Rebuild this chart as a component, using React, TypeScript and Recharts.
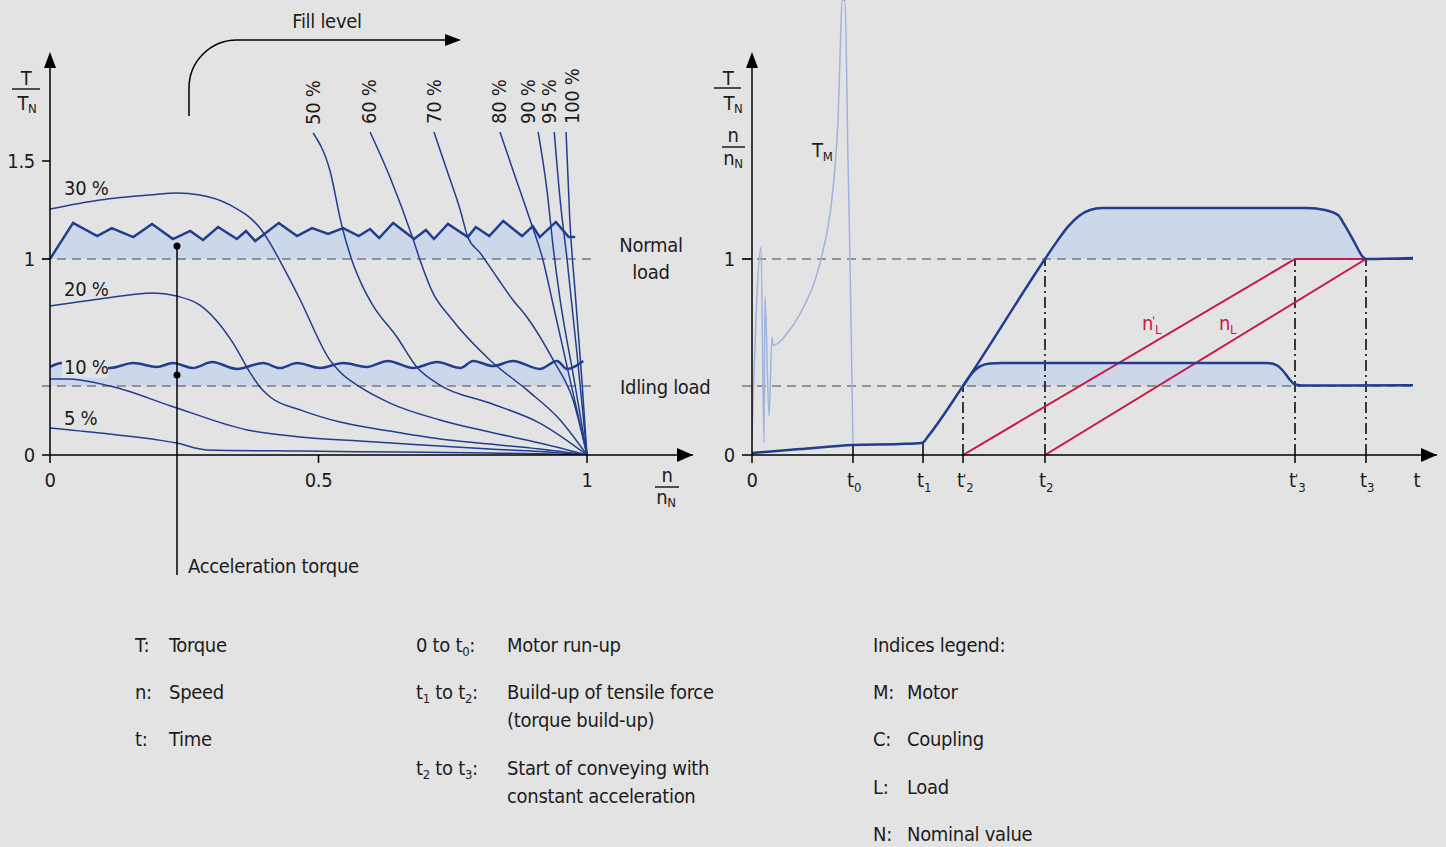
import { ComposedChart, Line, Area, XAxis, YAxis, ReferenceLine, ReferenceDot } from "recharts"

type Pt = [number, number]

// ---- left chart: T/TN over n/nN, one curve per fill level ----
const fill5: Pt[] = [[0, 0.138], [0.093, 0.112], [0.236, 0.061], [0.292, 0.026], [0.466, 0.02], [0.652, 0.015], [0.819, 0.01], [0.912, 0.006], [1, 0]]
const fill10: Pt[] = [[0, 0.388], [0.032, 0.388], [0.112, 0.352], [0.236, 0.24], [0.367, 0.128], [0.466, 0.092], [0.577, 0.071], [0.726, 0.046], [0.819, 0.031], [0.912, 0.018], [1, 0]]
const fill20: Pt[] = [[0, 0.76], [0.093, 0.796], [0.192, 0.827], [0.236, 0.811], [0.279, 0.765], [0.341, 0.571], [0.372, 0.423], [0.391, 0.347], [0.41, 0.296], [0.466, 0.23], [0.54, 0.168], [0.633, 0.122], [0.726, 0.082], [0.819, 0.056], [0.912, 0.03], [1, 0]]
const fill30: Pt[] = [[0, 1.255], [0.093, 1.301], [0.186, 1.327], [0.236, 1.337], [0.279, 1.327], [0.335, 1.276], [0.391, 1.158], [0.447, 0.893], [0.466, 0.791], [0.521, 0.485], [0.54, 0.423], [0.577, 0.347], [0.633, 0.265], [0.726, 0.179], [0.819, 0.117], [0.912, 0.061], [1, 0]]
const fill50: Pt[] = [[0.49, 1.643], [0.521, 1.454], [0.544, 1.163], [0.562, 0.995], [0.581, 0.867], [0.601, 0.765], [0.646, 0.602], [0.683, 0.449], [0.726, 0.357], [0.819, 0.265], [0.912, 0.163], [1, 0]]
const fill60: Pt[] = [[0.596, 1.648], [0.633, 1.418], [0.676, 1.102], [0.689, 0.995], [0.713, 0.827], [0.745, 0.704], [0.819, 0.485], [0.888, 0.332], [0.95, 0.179], [1, 0]]
const fill70: Pt[] = [[0.715, 1.648], [0.739, 1.454], [0.764, 1.25], [0.778, 1.112], [0.801, 1.031], [0.832, 0.908], [0.862, 0.791], [0.888, 0.704], [0.937, 0.485], [0.974, 0.281], [1, 0]]
const fill80: Pt[] = [[0.838, 1.648], [0.862, 1.454], [0.894, 1.199], [0.918, 0.995], [0.935, 0.791], [0.963, 0.45], [1, 0]]
const fill90: Pt[] = [[0.909, 1.648], [0.926, 1.339], [0.937, 1.061], [0.95, 0.791], [0.975, 0.4], [1, 0]]
const fill95: Pt[] = [[0.939, 1.648], [0.95, 1.301], [0.963, 0.995], [0.982, 0.5], [1, 0]]
const fill100: Pt[] = [[0.961, 1.648], [0.968, 1.199], [0.978, 0.827], [0.99, 0.4], [1, 0]]
const fillCurves = [fill5, fill10, fill20, fill30, fill50, fill60, fill70, fill80, fill90, fill95, fill100]

const normalLoad = 1
const idlingLoad = 0.352
const normalLoadWave: Pt[] = [[0, 1.0], [0.043, 1.184], [0.088, 1.117], [0.115, 1.158], [0.155, 1.112], [0.19, 1.179], [0.229, 1.102], [0.261, 1.143], [0.285, 1.097], [0.313, 1.163], [0.348, 1.102], [0.365, 1.143], [0.382, 1.092], [0.426, 1.184], [0.46, 1.117], [0.488, 1.158], [0.518, 1.128], [0.546, 1.158], [0.575, 1.117], [0.596, 1.153], [0.613, 1.107], [0.639, 1.184], [0.678, 1.102], [0.7, 1.148], [0.715, 1.102], [0.741, 1.179], [0.778, 1.112], [0.793, 1.163], [0.818, 1.117], [0.844, 1.194], [0.879, 1.117], [0.899, 1.168], [0.912, 1.112], [0.942, 1.189], [0.966, 1.112], [0.978, 1.112]]
const idlingLoadWave: Pt[] = [[0, 0.449], [0.022, 0.469], [0.065, 0.444], [0.112, 0.444], [0.155, 0.469], [0.199, 0.449], [0.229, 0.469], [0.266, 0.444], [0.302, 0.474], [0.348, 0.439], [0.397, 0.469], [0.428, 0.444], [0.46, 0.469], [0.503, 0.444], [0.546, 0.469], [0.59, 0.449], [0.629, 0.48], [0.676, 0.444], [0.721, 0.474], [0.764, 0.444], [0.788, 0.48], [0.825, 0.454], [0.862, 0.48], [0.912, 0.439], [0.944, 0.48], [0.963, 0.439], [0.993, 0.48]]
const accelSpeed = 0.2365
const accelTop = 1.066
const accelBottom = 0.408
const speedTicks = [0, 0.5, 1]
const torqueTicks = [0, 1, 1.5]
const fillLabelsTop: [string, number, number][] = [["50 %", 313, 125], ["60 %", 369, 124], ["70 %", 434, 124], ["80 %", 499, 124], ["90 %", 528, 124], ["95 %", 549, 124], ["100 %", 572, 124]]

// ---- right chart: run-up over time ----
const tTicks = [0, 101, 171, 211, 293, 543, 614]
const tTickLabels = ["0", "t0", "t1", "t'2", "t2", "t'3", "t3"]
const tEnd = 661
const motorTorque: Pt[] = [[0, 0.1], [9, 1.06], [12, 0.06], [13, 0.81], [17, 0.2], [20, 0.6], [21, 0.56], [38, 0.64], [53, 0.77], [63, 0.89], [70, 1.02], [78, 1.23], [83, 1.47], [86, 1.71], [88, 2.02], [90, 2.32], [93, 2.32], [96, 1.5], [98, 0.995], [101, 0.05]]
const couplingTorque: Pt[] = [[0, 0.01], [48, 0.03], [101, 0.051], [148, 0.056], [166, 0.06], [171, 0.064], [176, 0.095], [211, 0.352], [293, 1.0], [305, 1.09], [316, 1.165], [327, 1.22], [338, 1.25], [350, 1.26], [555, 1.26], [573, 1.25], [586, 1.224], [593, 1.17], [603, 1.08], [611, 1.01], [614, 1.0], [661, 1.005]]
const loadTorque: Pt[] = [[211, 0.352], [215, 0.383], [221, 0.423], [228, 0.452], [238, 0.467], [250, 0.469], [515, 0.469], [524, 0.46], [531, 0.43], [537, 0.39], [543, 0.36], [551, 0.354], [661, 0.356]]
const loadSpeedPrime: Pt[] = [[211, 0], [543, 1], [661, 1]]
const loadSpeed: Pt[] = [[293, 0], [614, 1], [661, 1]]

const FONT = '"Liberation Sans Narrow", "Arial Narrow", "DejaVu Sans Condensed", "Roboto Condensed", sans-serif'
const BG = "#e3e3e3"
const INK = "#1c1c1c"
const NAVY = "#213d8e"
const SHADE = "#cdd7ea"
const SKY = "#9fb3dd"
const RED = "#c8174b"
const DASH = "#7a7a7a"

const Y_MAX = 455 / 196
const X_MAX_L = 643 / 537
const T_MAX = 685

const rows = (pts: Pt[]) => pts.map(([x, y]) => ({ x, y }))
const band = (pts: Pt[], base: number) => pts.map(([x, y]) => ({ x, r: [base, y] }))

const upArrow = (p: any) => (
  <polygon points={`${p.cx},${p.cy} ${p.cx - 6},${p.cy + 16} ${p.cx + 6},${p.cy + 16}`} fill="#000" />
)
const rightArrow = (p: any) => (
  <polygon points={`${p.cx},${p.cy} ${p.cx - 16},${p.cy - 7} ${p.cx - 16},${p.cy + 7}`} fill="#000" />
)

const tickFont = { fontSize: 20, fill: INK, fontFamily: FONT, letterSpacing: -0.3 }

const TimeTick = ({ x, y, payload }: any) => {
  const lbl = tTickLabels[tTicks.indexOf(payload.value)] ?? ""
  if (lbl === "0") {
    return <text x={x} y={y + 22} textAnchor="middle" {...tickFont}>0</text>
  }
  const prime = lbl.includes("'")
  const sub = lbl[lbl.length - 1]
  return (
    <text x={x - 6} y={y + 22} fontFamily={FONT} fill={INK} fontSize={20}>
      t
      {prime ? (
        <>
          <tspan fontSize={13} dx={-1} dy={-4}>'</tspan>
          <tspan fontSize={13} dy={9}>{sub}</tspan>
        </>
      ) : (
        <tspan fontSize={13} dy={5}>{sub}</tspan>
      )}
    </text>
  )
}

const Txt = (props: any) => <text fontFamily={FONT} fontSize={20} letterSpacing={-0.3} fill={INK} {...props} />

export default function App() {
  return (
    <div style={{ position: "absolute", left: 0, top: 0, width: 1446, height: 847, background: BG, overflow: "hidden" }}>
      <div style={{ position: "absolute", left: 0, top: 0 }}>
        <ComposedChart width={720} height={600} margin={{ top: 0, right: 27, bottom: 0, left: 0 }}>
          <XAxis type="number" dataKey="x" domain={[0, X_MAX_L]} allowDataOverflow ticks={speedTicks} interval={0}
            height={145} tickSize={8} tickMargin={10} tick={tickFont}
            axisLine={{ stroke: "#000", strokeWidth: 1.5 }} tickLine={{ stroke: "#000", strokeWidth: 1.5 }} />
          <YAxis type="number" domain={[0, Y_MAX]} allowDataOverflow ticks={torqueTicks} interval={0}
            width={50} tickSize={8} tickMargin={7} tick={tickFont} axisLine={false}
            tickLine={{ stroke: "#000", strokeWidth: 1.5 }} />

          <Area data={band(normalLoadWave.filter(([x]) => x <= 0.97), normalLoad)} dataKey="r" type="linear"
            stroke="none" fill={SHADE} fillOpacity={1} isAnimationActive={false} />
          <Area data={band(idlingLoadWave.filter(([x]) => x <= 0.965), idlingLoad)} dataKey="r" type="monotone"
            stroke="none" fill={SHADE} fillOpacity={1} isAnimationActive={false} />

          <ReferenceLine segment={[{ x: -0.015, y: normalLoad }, { x: 1.017, y: normalLoad }]} stroke={DASH}
            strokeWidth={1.5} strokeDasharray="9 6" ifOverflow="visible" />
          <ReferenceLine segment={[{ x: -0.015, y: idlingLoad }, { x: 1.017, y: idlingLoad }]} stroke={DASH}
            strokeWidth={1.5} strokeDasharray="9 6" ifOverflow="visible" />

          {fillCurves.map((c, i) => (
            <Line key={i} data={rows(c)} dataKey="y" type="monotone" stroke={NAVY} strokeWidth={1.5}
              dot={false} isAnimationActive={false} />
          ))}
          <Line data={rows(normalLoadWave)} dataKey="y" type="linear" stroke={NAVY} strokeWidth={2.5}
            dot={false} isAnimationActive={false} />
          <Line data={rows(idlingLoadWave)} dataKey="y" type="monotone" stroke={NAVY} strokeWidth={2.5}
            dot={false} isAnimationActive={false} />

          <ReferenceLine segment={[{ x: accelSpeed, y: accelTop }, { x: accelSpeed, y: -0.612 }]} stroke="#000"
            strokeWidth={1.5} ifOverflow="visible" />
          <ReferenceDot x={accelSpeed} y={accelTop} r={3.5} fill="#000" stroke="none" ifOverflow="visible" />
          <ReferenceDot x={accelSpeed} y={accelBottom} r={3.5} fill="#000" stroke="none" ifOverflow="visible" />

          <ReferenceLine segment={[{ x: 0, y: 0 }, { x: 0, y: 1.99 }]} stroke="#000" strokeWidth={1.5} ifOverflow="visible" />
          <ReferenceDot x={0} y={2.056} shape={upArrow} ifOverflow="visible" />
          <ReferenceDot x={X_MAX_L} y={0} shape={rightArrow} ifOverflow="visible" />
        </ComposedChart>
      </div>

      <div style={{ position: "absolute", left: 700, top: 0 }}>
        <ComposedChart width={746} height={600} margin={{ top: 0, right: 9, bottom: 0, left: 0 }}>
          <XAxis type="number" dataKey="x" domain={[0, T_MAX]} allowDataOverflow ticks={tTicks} interval={0}
            height={145} tickSize={8} tick={<TimeTick />}
            axisLine={{ stroke: "#000", strokeWidth: 1.5 }} tickLine={{ stroke: "#000", strokeWidth: 1.5 }} />
          <YAxis type="number" domain={[0, Y_MAX]} allowDataOverflow ticks={[0, 1]} interval={0}
            width={52} tickSize={10} tickMargin={7} tick={tickFont} axisLine={false}
            tickLine={{ stroke: "#000", strokeWidth: 1.5 }} />

          <Area data={band(couplingTorque.filter(([x]) => x >= 293 && x <= 614), normalLoad)} dataKey="r"
            type="monotone" stroke="none" fill={SHADE} fillOpacity={1} isAnimationActive={false} />
          <Area data={band(loadTorque.filter(([x]) => x <= 551), idlingLoad)} dataKey="r"
            type="monotone" stroke="none" fill={SHADE} fillOpacity={1} isAnimationActive={false} />

          <ReferenceLine segment={[{ x: -10, y: normalLoad }, { x: tEnd, y: normalLoad }]} stroke={DASH}
            strokeWidth={1.5} strokeDasharray="9 6" ifOverflow="visible" />
          <ReferenceLine segment={[{ x: -10, y: idlingLoad }, { x: tEnd, y: idlingLoad }]} stroke={DASH}
            strokeWidth={1.5} strokeDasharray="9 6" ifOverflow="visible" />

          <ReferenceLine segment={[{ x: tTicks[1], y: 0 }, { x: tTicks[1], y: 0.051 }]} stroke="#000" strokeWidth={1.5} ifOverflow="visible" />
          <ReferenceLine segment={[{ x: tTicks[2], y: 0 }, { x: tTicks[2], y: 0.064 }]} stroke="#000" strokeWidth={1.5} ifOverflow="visible" />
          <ReferenceLine segment={[{ x: tTicks[3], y: 0 }, { x: tTicks[3], y: idlingLoad }]} stroke="#000"
            strokeWidth={1.5} strokeDasharray="11 4 2 4" ifOverflow="visible" />
          {[tTicks[4], tTicks[5], tTicks[6]].map((t) => (
            <ReferenceLine key={t} segment={[{ x: t, y: 0 }, { x: t, y: normalLoad }]} stroke="#000"
              strokeWidth={1.5} strokeDasharray="11 4 2 4" ifOverflow="visible" />
          ))}

          <Line data={rows(motorTorque)} dataKey="y" type="monotone" stroke={SKY} strokeWidth={1.5}
            dot={false} isAnimationActive={false} />
          <Line data={rows(loadSpeedPrime)} dataKey="y" type="linear" stroke={RED} strokeWidth={2}
            dot={false} isAnimationActive={false} />
          <Line data={rows(loadSpeed)} dataKey="y" type="linear" stroke={RED} strokeWidth={2}
            dot={false} isAnimationActive={false} />
          <Line data={rows(couplingTorque)} dataKey="y" type="monotone" stroke={NAVY} strokeWidth={2.5}
            dot={false} isAnimationActive={false} />
          <Line data={rows(loadTorque)} dataKey="y" type="monotone" stroke={NAVY} strokeWidth={2.5}
            dot={false} isAnimationActive={false} />

          <ReferenceLine segment={[{ x: 0, y: 0 }, { x: 0, y: 1.99 }]} stroke="#000" strokeWidth={1.5} ifOverflow="visible" />
          <ReferenceDot x={0} y={2.056} shape={upArrow} ifOverflow="visible" />
          <ReferenceDot x={T_MAX} y={0} shape={rightArrow} ifOverflow="visible" />
        </ComposedChart>
      </div>

      <svg width={1446} height={847} style={{ position: "absolute", left: 0, top: 0, pointerEvents: "none" }}>
        {/* fill level arrow */}
        <Txt x={327} y={28} textAnchor="middle">Fill level</Txt>
        <path d="M189,116 V88 A48,48 0 0 1 237,40 H447" fill="none" stroke="#000" strokeWidth={1.5} />
        <polygon points="461,40 445,34 445,46" fill="#000" />
        {fillLabelsTop.map(([l, cx, b]) => (
          <Txt key={l} x={cx + 7} y={b} transform={`rotate(-90 ${cx + 7} ${b})`}>{l}</Txt>
        ))}
        <Txt x={64} y={195}>30 %</Txt>
        <Txt x={64} y={296}>20 %</Txt>
        <rect x={62} y={356} width={46} height={22} fill={BG} />
        <Txt x={64} y={374}>10 %</Txt>
        <Txt x={64} y={425}>5 %</Txt>

        {/* left axis titles */}
        <Txt x={26} y={85} textAnchor="middle">T</Txt>
        <line x1={12} x2={40} y1={89} y2={89} stroke={INK} strokeWidth={1.5} />
        <Txt x={27} y={110} textAnchor="middle">T<tspan fontSize={13} dy={3}>N</tspan></Txt>
        <Txt x={667} y={482} textAnchor="middle">n</Txt>
        <line x1={655} x2={679} y1={487} y2={487} stroke={INK} strokeWidth={1.5} />
        <Txt x={666} y={504} textAnchor="middle">n<tspan fontSize={13} dy={3}>N</tspan></Txt>
        <Txt x={651} y={252} textAnchor="middle">Normal</Txt>
        <Txt x={651} y={279} textAnchor="middle">load</Txt>
        <Txt x={620} y={394}>Idling load</Txt>
        <Txt x={188} y={573}>Acceleration torque</Txt>

        {/* right axis titles */}
        <Txt x={728} y={85} textAnchor="middle">T</Txt>
        <line x1={714} x2={741} y1={88} y2={88} stroke={INK} strokeWidth={1.5} />
        <Txt x={733} y={110} textAnchor="middle">T<tspan fontSize={13} dy={3}>N</tspan></Txt>
        <Txt x={733} y={142} textAnchor="middle">n</Txt>
        <line x1={722} x2={745} y1={147} y2={147} stroke={INK} strokeWidth={1.5} />
        <Txt x={733} y={165} textAnchor="middle">n<tspan fontSize={13} dy={3}>N</tspan></Txt>
        <Txt x={1417} y={487} textAnchor="middle">t</Txt>
        <Txt x={812} y={157}>T<tspan fontSize={13} dy={4}>M</tspan></Txt>
        <Txt x={1142} y={330} fill={RED}>n<tspan fontSize={13} dx={-1} dy={-5}>'</tspan><tspan fontSize={13} dy={9}>L</tspan></Txt>
        <Txt x={1219} y={330} fill={RED}>n<tspan fontSize={13} dy={4}>L</tspan></Txt>

        {/* legend */}
        <Txt x={135} y={652}>T:</Txt>
        <Txt x={169} y={652}>Torque</Txt>
        <Txt x={135} y={699}>n:</Txt>
        <Txt x={169} y={699}>Speed</Txt>
        <Txt x={135} y={746}>t:</Txt>
        <Txt x={169} y={746}>Time</Txt>

        <Txt x={416} y={652}>0 to t<tspan fontSize={13} dy={4}>0</tspan><tspan dy={-4}>:</tspan></Txt>
        <Txt x={507} y={652}>Motor run-up</Txt>
        <Txt x={416} y={699}>t<tspan fontSize={13} dy={4}>1</tspan><tspan dy={-4}> to t</tspan><tspan fontSize={13} dy={4}>2</tspan><tspan dy={-4}>:</tspan></Txt>
        <Txt x={507} y={699}>Build-up of tensile force</Txt>
        <Txt x={507} y={727}>(torque build-up)</Txt>
        <Txt x={416} y={775}>t<tspan fontSize={13} dy={4}>2</tspan><tspan dy={-4}> to t</tspan><tspan fontSize={13} dy={4}>3</tspan><tspan dy={-4}>:</tspan></Txt>
        <Txt x={507} y={775}>Start of conveying with</Txt>
        <Txt x={507} y={803}>constant acceleration</Txt>

        <Txt x={873} y={652}>Indices legend:</Txt>
        <Txt x={873} y={699}>M:</Txt>
        <Txt x={907} y={699}>Motor</Txt>
        <Txt x={873} y={746}>C:</Txt>
        <Txt x={907} y={746}>Coupling</Txt>
        <Txt x={873} y={794}>L:</Txt>
        <Txt x={907} y={794}>Load</Txt>
        <Txt x={873} y={841}>N:</Txt>
        <Txt x={907} y={841}>Nominal value</Txt>
      </svg>
    </div>
  )
}
